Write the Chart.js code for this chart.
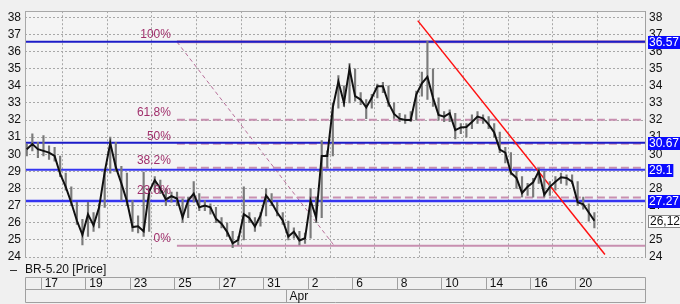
<!DOCTYPE html>
<html>
<head>
<meta charset="utf-8">
<script src="https://cdn.jsdelivr.net/npm/chart.js@4/dist/chart.umd.min.js"></script>
<style>
  html, body { margin: 0; padding: 0; background: #f0f0f0; }
  #wrap { width: 680px; height: 304px; }
</style>
</head>
<body>
<div id="wrap"><canvas id="chart" width="680" height="304"></canvas></div>
<script>
// price bars, 4 per trading day; day 0 = Mar 16
const barsPerDay = 4;
const firstBar = 0.375;
const closes = [
  30.3, 30.6, 30.3, 30.2, 30.1, 29.9, 28.85, 28.1, 27.17, 26.13,
  25.3, 26.5, 25.85, 26.9, 28.96, 30.66, 29.25, 28.3, 27.26, 25.75,
  25.8, 25.5, 27.83, 28.49, 28.0, 27.36, 27.55, 27.42, 26.32, 27.3,
  27.7, 26.9, 27.0, 26.9, 26.23, 25.95, 25.47, 24.8, 25.0, 26.5,
  26.28, 25.78, 26.42, 27.6, 27.17, 26.6, 26.13, 25.19, 25.47, 24.97,
  25.1, 27.3, 26.3, 29.9, 29.9, 32.74, 34.25, 33.0, 35.0, 33.4,
  33.2, 32.74, 33.3, 33.97, 33.97, 33.0, 32.36, 32.08, 32.0, 32.0,
  33.49, 34.15, 34.53, 33.3, 32.3, 32.2, 32.4, 31.41, 31.57, 31.6,
  31.89, 32.2, 32.1, 31.75, 31.27, 30.28, 30.1, 28.92, 28.62, 27.74,
  28.1, 28.36, 29.0, 27.64, 28.1, 28.4, 28.66, 28.62, 28.4, 27.2,
  27.08, 26.6, 26.12
];
const lows = [
  29.9, 30.2, 29.8, 29.9, 29.7, 29.6, 28.7, 27.9, 27.0, 25.9,
  24.7, 25.2, 25.5, 25.7, 26.9, 28.9, 29.0, 27.3, 27.0, 25.5,
  25.4, 25.2, 25.5, 27.8, 27.7, 27.0, 27.2, 27.0, 26.0, 26.3,
  27.2, 26.7, 26.7, 26.5, 26.0, 25.7, 25.2, 24.55, 24.7, 25.0,
  26.0, 25.5, 25.8, 26.4, 27.0, 26.4, 25.9, 25.0, 25.1, 24.7,
  24.8, 25.1, 26.0, 26.3, 29.2, 29.9, 32.7, 32.8, 33.0, 33.1,
  32.9, 32.08, 32.7, 33.3, 33.6, 32.8, 32.1, 31.9, 31.8, 31.9,
  32.0, 33.4, 33.2, 32.8, 32.0, 31.9, 31.9, 30.9, 31.2, 31.0,
  31.5, 31.8, 31.8, 31.5, 31.0, 30.1, 29.5, 28.8, 28.0, 27.5,
  27.6, 27.5, 28.3, 27.5, 27.6, 27.9, 28.3, 28.2, 28.3, 27.0,
  26.8, 26.1, 25.7
];
const highs = [
  30.6, 31.2, 30.7, 31.1, 30.5, 30.4, 29.9, 28.9, 28.1, 27.2,
  26.2, 27.2, 26.6, 27.1, 29.1, 31.0, 30.7, 29.3, 28.9, 27.3,
  26.4, 28.96, 28.0, 28.7, 28.5, 28.0, 27.8, 27.8, 27.4, 27.5,
  28.4, 27.7, 27.3, 27.1, 26.9, 26.3, 26.0, 25.5, 25.2, 28.1,
  26.6, 26.3, 26.6, 28.0, 27.7, 27.2, 26.6, 26.1, 25.7, 25.5,
  25.4, 28.0, 27.5, 30.8, 30.2, 33.0, 34.6, 34.0, 35.3, 35.0,
  33.6, 33.2, 33.5, 34.1, 34.2, 34.0, 33.0, 32.4, 32.3, 32.5,
  33.7, 34.8, 36.6, 35.0, 33.3, 32.5, 32.6, 32.4, 31.8, 31.8,
  32.3, 32.5, 32.3, 32.2, 31.8, 31.3, 30.4, 30.1, 29.0, 28.7,
  28.3, 28.6, 29.2, 29.0, 28.4, 28.7, 28.9, 28.8, 28.8, 28.4,
  27.5, 27.1, 26.6
];

// date axis (trading day index of each label)
const dayTicks = [1, 3, 5, 7, 9, 11, 13, 15, 17, 19, 21, 23, 25];
const dayLabels = ['17', '19', '23', '25', '27', '31', '2', '6', '8', '10', '14', '16', '20'];
const monthTicks = [12];
const monthLabels = ['Apr'];
const priceTicks = [24, 25, 26, 27, 28, 29, 30, 31, 32, 33, 34, 35, 36, 37, 38];

// horizontal levels with their tags
const levels = [36.57, 30.67, 29.1, 27.27];
const levelTags = ['36.57', '30.67', '29.1', '27.27'];
const lastPrice = 26.12;
const lastTag = '26,12';

// fibonacci retracement: [day, price]
const fibFrom = [7.12, 36.57];
const fibTo = [14.19, 24.66];
const fibRatios = [1, 0.618, 0.5, 0.382, 0.236, 0];
const fibLabels = ['100%', '61.8%', '50%', '38.2%', '23.6%', '0%'];

// red trend line
const trendX = [17.94, 26.35];
const trendY = [37.81, 24.15];

const X_MIN = 0.295, X_MAX = 28.15;
const Y_MIN = 24, Y_MAX = 38.36;
const FAMILY = '"Liberation Sans", Arial, sans-serif';
const FONT = '12px ' + FAMILY;

const barX = i => firstBar + i / barsPerDay;
const fibValue = r => fibTo[1] + (fibFrom[1] - fibTo[1]) * r;

const datasets = [];

datasets.push({
  label: 'BR-5.20 [Price]',
  data: closes.map((c, i) => ({ x: barX(i), y: c })),
  borderColor: '#111111',
  borderWidth: 2,
  pointRadius: 0,
  tension: 0,
  order: 0
});
datasets.push({
  type: 'bar',
  data: lows.map((l, i) => ({ x: barX(i), y: [l, highs[i]] })),
  backgroundColor: '#7a7a7a',
  barThickness: 1.5,
  grouped: false,
  order: 1
});

// fib lines
fibRatios.forEach(r => {
  const solid = r === 1 || r === 0;
  datasets.push({
    data: [{ x: fibFrom[0], y: fibValue(r) }, { x: X_MAX, y: fibValue(r) }],
    borderColor: '#c88fb0',
    borderWidth: r === 1 ? 3 : 2,
    borderDash: solid ? [] : [8, 4],
    pointRadius: 0,
    order: 5
  });
});
datasets.push({
  data: [{ x: fibFrom[0], y: fibFrom[1] }, { x: fibTo[0], y: fibTo[1] }],
  borderColor: '#b8709a',
  borderWidth: 1,
  borderDash: [4, 3],
  pointRadius: 0,
  order: 5
});

// blue levels
levels.forEach((v, k) => {
  datasets.push({
    data: [{ x: X_MIN, y: v }, { x: X_MAX, y: v }],
    borderColor: k < 2 ? '#1c1cc8' : '#3535f0',
    borderWidth: k === 3 ? 2.5 : 2,
    pointRadius: 0,
    order: 3
  });
});

// trend line
datasets.push({
  data: trendX.map((x, i) => ({ x: x, y: trendY[i] })),
  borderColor: '#ff1010',
  borderWidth: 1.5,
  pointRadius: 0,
  order: 2
});

const decor = {
  id: 'decor',
  beforeDraw(chart) {
    const { ctx, chartArea: a } = chart;
    ctx.save();
    ctx.fillStyle = '#f4f4f4';
    ctx.fillRect(a.left, a.top, a.right - a.left, a.bottom - a.top);
    ctx.restore();
  },
  afterDraw(chart) {
    const { ctx, chartArea: a, scales } = chart;
    const xs = scales.x, ys = scales.y;
    ctx.save();
    ctx.font = FONT;

    // plot frame: top, left, right solid
    ctx.strokeStyle = '#a8a8a8';
    ctx.lineWidth = 1;
    ctx.beginPath();
    ctx.moveTo(a.left, Math.round(a.top) + 0.5);
    ctx.lineTo(a.right, Math.round(a.top) + 0.5);
    ctx.moveTo(Math.round(a.left) + 0.5, a.top);
    ctx.lineTo(Math.round(a.left) + 0.5, a.bottom);
    ctx.stroke();

    // fib labels
    ctx.fillStyle = '#a0306c';
    ctx.textAlign = 'right';
    ctx.textBaseline = 'bottom';
    const fx = xs.getPixelForValue(fibFrom[0]) - 6;
    fibRatios.forEach((r, k) => {
      ctx.fillText(fibLabels[k], fx, ys.getPixelForValue(fibValue(r)) - 1);
    });

    // value tags on the right
    ctx.textAlign = 'left';
    ctx.textBaseline = 'middle';
    levels.forEach((v, k) => {
      const y = ys.getPixelForValue(v);
      const w = ctx.measureText(levelTags[k]).width + 2;
      ctx.fillStyle = '#0a0aff';
      ctx.fillRect(a.right + 3, Math.round(y) - 6, w, 13);
      ctx.fillStyle = '#ffffff';
      ctx.fillText(levelTags[k], a.right + 4, y + 0.5);
    });
    const ly = ys.getPixelForValue(lastPrice);
    const lw = ctx.measureText(lastTag).width + 3;
    ctx.fillStyle = '#ffffff';
    ctx.fillRect(a.right + 3, Math.round(ly) - 6, lw, 13);
    ctx.strokeStyle = '#888888';
    ctx.strokeRect(a.right + 3.5, Math.round(ly) - 5.5, lw, 12);
    ctx.fillStyle = '#111111';
    ctx.fillText(lastTag, a.right + 5, ly + 0.5);

    // legend
    ctx.strokeStyle = '#333333';
    ctx.beginPath();
    ctx.moveTo(10, 270.5);
    ctx.lineTo(17, 270.5);
    ctx.stroke();
    ctx.fillStyle = '#111111';
    ctx.fillText('BR-5.20 [Price]', 25, 270);

    // date axis boxes
    const r1 = 277.5, r2 = 289.5, r3 = 302.5;
    const L = Math.round(a.left) + 0.5, R = Math.round(a.right) + 0.5;
    ctx.strokeStyle = '#a0a0a0';
    ctx.beginPath();
    [r1, r2, r3].forEach(y => { ctx.moveTo(L, y); ctx.lineTo(R, y); });
    ctx.moveTo(L, r1); ctx.lineTo(L, r3);
    ctx.moveTo(R, r1); ctx.lineTo(R, r3);
    dayTicks.forEach(t => {
      const x = Math.round(xs.getPixelForValue(t)) + 0.5;
      ctx.moveTo(x, r1); ctx.lineTo(x, r2);
    });
    monthTicks.forEach(t => {
      const x = Math.round(xs.getPixelForValue(t)) + 0.5;
      ctx.moveTo(x, r2); ctx.lineTo(x, r3);
    });
    ctx.stroke();
    ctx.fillStyle = '#111111';
    dayTicks.forEach((t, k) => {
      ctx.fillText(dayLabels[k], xs.getPixelForValue(t) + 4, (r1 + r2) / 2 + 0.5);
    });
    monthTicks.forEach((t, k) => {
      ctx.fillText(monthLabels[k], xs.getPixelForValue(t) + 4, (r2 + r3) / 2 + 0.5);
    });
    ctx.restore();
  }
};

const gridColor = '#a8a8a8';

new Chart(document.getElementById('chart'), {
  type: 'line',
  data: { datasets: datasets },
  options: {
    responsive: false,
    animation: false,
    layout: { padding: { top: 4, left: 0, right: 0, bottom: 0 } },
    plugins: { legend: { display: false }, tooltip: { enabled: false } },
    scales: {
      x: {
        type: 'linear',
        min: X_MIN,
        max: X_MAX,
        offset: false,
        afterBuildTicks: s => { s.ticks = dayTicks.map(v => ({ value: v })); },
        afterFit: s => { s.height = 47; },
        ticks: { display: false },
        grid: { color: gridColor, drawTicks: false },
        border: { display: false, dash: [2, 2] }
      },
      y: {
        position: 'left',
        min: Y_MIN,
        max: Y_MAX,
        afterBuildTicks: s => { s.ticks = priceTicks.map(v => ({ value: v })); },
        afterFit: s => { s.width = 25; },
        ticks: { padding: 4, color: '#111111', font: { family: FAMILY, size: 12 } },
        grid: { color: gridColor, drawTicks: false },
        border: { display: false, dash: [2, 2] }
      },
      y2: {
        position: 'right',
        min: Y_MIN,
        max: Y_MAX,
        afterBuildTicks: s => { s.ticks = priceTicks.map(v => ({ value: v })); },
        afterFit: s => { s.width = 35; },
        ticks: { padding: 4, color: '#111111', font: { family: FAMILY, size: 12 } },
        grid: { display: false, drawTicks: false },
        border: { display: true, color: '#a0a0a0' }
      }
    }
  },
  plugins: [decor]
});
</script>
</body>
</html>
